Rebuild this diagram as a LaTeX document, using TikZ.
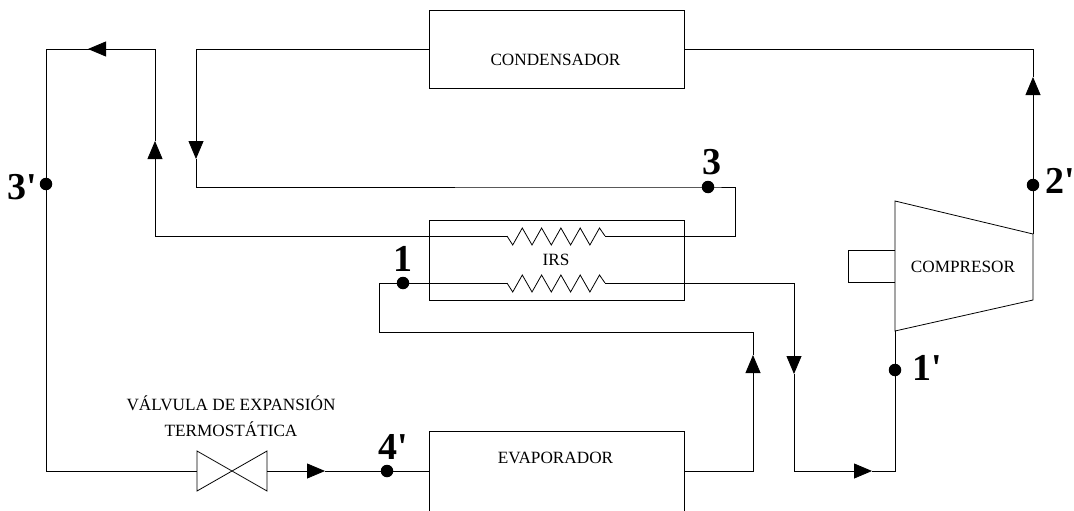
\documentclass[tikz,border=0pt]{standalone}
\usepackage{fontspec}
\setmainfont{Liberation Serif}
\usetikzlibrary{arrows.meta, positioning}

\begin{document}
\begin{tikzpicture}[
  x=1pt, y=-1pt,
  line width=0.8pt,
  box/.style={draw, inner sep=0pt, outer sep=0pt, minimum width=255pt},
  tag/.style={inner sep=0pt, align=center, font=\fontsize{17.2}{26}\selectfont},
  dot/.style={circle, fill=black, inner sep=0pt, minimum size=12.5pt},
  num/.style={inner sep=0pt, font=\fontsize{38}{38}\selectfont\bfseries},
  flow/.style={-{Triangle[length=18pt, width=15pt]}},
  coil/.pic={\draw (0,0) \foreach \k in {0,...,4} {-- (5.7+19.3*\k,9) -- (15.3+19.3*\k,-8)} -- (98,0);}
]
\useasboundingbox (0,0) rectangle (1074,511);

\node[box, minimum height=78pt] (cond) at (556.5,49) {};
\node[box, minimum height=80pt] (irs) at (556.5,260) {};
\node[box, minimum height=81pt] (evap) at (556.5,471.5) {};
\node[tag] (condtxt) at (555.5,60) {CONDENSADOR};
\node[tag] (irstxt) at (556,260) {IRS};
\node[tag] (evaptxt) at (555.5,458) {EVAPORADOR};

% compresor
\coordinate (ctl) at (895,201);
\coordinate (ctr) at (1033,234);
\coordinate (cbr) at (1033,300);
\coordinate (cbl) at (895,331);
\draw (ctl) -- (ctr) -- (cbr) -- (cbl) -- cycle;
\node[tag] (comptxt) at (963,267) {COMPRESOR};
\draw (895,250) -- (848,250) -- (848,282) -- (895,282);

% valvula
\node[inner sep=0pt, outer sep=0pt, minimum width=70pt, minimum height=40pt] (valve) at (232,471) {};
\draw (valve.north west) -- (valve.south east) -- (valve.north east) -- (valve.south west) -- cycle;
\node[tag] (valvetxt) at (231,416.5) {VÁLVULA DE EXPANSIÓN\\TERMOSTÁTICA};

% serpentines
\coordinate (coilA) at (507,236);
\coordinate (coilAe) at (605,236);
\coordinate (coilB) at (507,283);
\coordinate (coilBe) at (605,283);
\pic at (coilA) {coil};
\pic at (coilB) {coil};

% puntos
\node[dot] (p3) at (708,187) {};
\node[dot] (p3b) at (46,184) {};
\node[dot] (p1) at (403,283) {};
\node[dot] (p2b) at (1033,185) {};
\node[dot] (p1b) at (895,370) {};
\node[dot] (p4b) at (387,471) {};
\node[num, above=5pt of p3, xshift=4pt] (n3) {3};
\node[num, left=2pt of p3b, yshift=-3pt] (n3b) {3\textquotesingle};
\node[num, above=4pt of p1] (n1) {1};
\node[num, right=5pt of p2b, yshift=4pt] (n2b) {2\textquotesingle};
\node[num, right=10pt of p1b, yshift=2pt] (n1b) {1\textquotesingle};
\node[num, above=4pt of p4b, xshift=6pt] (n4b) {4\textquotesingle};

% tramos de tuberia
\coordinate (tipA) at (1033,77);
\coordinate (tipB) at (196,159);
\coordinate (tipC) at (155,141);
\coordinate (tipD) at (88,49);
\coordinate (tipE) at (325,471);
\coordinate (tipF) at (753,355);
\coordinate (tipG) at (794,374);
\coordinate (tipH) at (872,471);
\coordinate (bend) at (794,471);

\draw[flow] (ctr) -- (tipA);
\draw (tipA) |- (cond.east);
\draw[flow] (cond.west) -| (tipB);
\draw (tipB) |- (p3.center) -| (735,236) -- (coilAe);
\draw[flow] (coilA) -| (tipC);
\draw (tipC) |- (tipD);
\draw[flow] (155,49) -- (tipD);
\draw (tipD) -| (46,471) -- (valve.west);
\draw[flow] (valve.east) -- (tipE);
\draw (tipE) -- (evap.west |- tipE);
\draw[flow] (evap.east |- tipE) -| (tipF);
\draw (tipF) |- (379,332) |- (coilB);
\draw[flow] (coilBe) -| (tipG);
\draw (tipG) -- (bend);
\draw[flow] (bend) -- (tipH);
\draw (tipH) -| (cbl);
\end{tikzpicture}
\end{document}
